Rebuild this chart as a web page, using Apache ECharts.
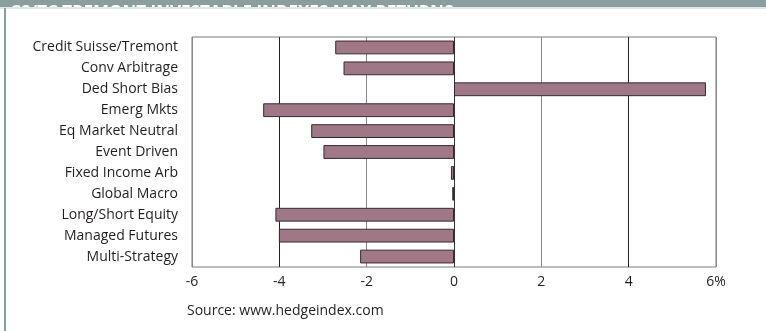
<!DOCTYPE html>
<html>
<head>
<meta charset="utf-8">
<script src="https://cdn.jsdelivr.net/npm/echarts@6/dist/echarts.min.js"></script>
<style>
  html, body { margin: 0; padding: 0; background: #fff; }
  #chart { width: 766px; height: 331px; }
</style>
</head>
<body>
<div id="chart"></div>
<script>
// May returns by strategy index, in %
const categories = [
    'Credit Suisse/Tremont', 'Conv Arbitrage', 'Ded Short Bias', 'Emerg Mkts',
    'Eq Market Neutral', 'Event Driven', 'Fixed Income Arb', 'Global Macro',
    'Long/Short Equity', 'Managed Futures', 'Multi-Strategy',
];
const returns = [-2.72, -2.53, 5.77, -4.37, -3.27, -2.99, -0.07, -0.04, -4.09, -4.01, -2.15];
const xTicks = [-6, -4, -2, 0, 2, 4, 6];
const titleText = 'CS/TC TREMONT INVESTABLE INDEXES MAY RETURNS';
const sourceText = 'Source: www.hedgeindex.com';

const FONT = '"Open Sans", "Noto Sans", sans-serif';

const chart = echarts.init(document.getElementById('chart'), null, { renderer: 'canvas' });

chart.setOption({
    animation: false,
    backgroundColor: '#fff',
    grid: {
        left: 192, right: 50, top: 37, bottom: 64,
        show: true, borderColor: '#7a7a7a', borderWidth: 1,
    },
    xAxis: {
        type: 'value',
        min: xTicks[0],
        max: xTicks[xTicks.length - 1],
        interval: 2,
        axisLine: { show: false },
        axisTick: { show: false },
        splitLine: {
            show: true,
            lineStyle: { color: ['#888', '#222', '#888', '#333', '#888', '#222', '#888'], width: 1 },
        },
        axisLabel: {
            color: '#231f20', fontFamily: FONT, fontSize: 14, margin: 8,
            formatter: (v) => (v === 6 ? '6%' : String(v)),
        },
    },
    yAxis: {
        type: 'category',
        data: categories,
        inverse: true,
        axisLine: { show: false },
        axisTick: { show: false },
        splitLine: { show: false },
        axisLabel: { color: '#231f20', fontFamily: FONT, fontSize: 14, margin: 14 },
    },
    series: [{
        type: 'bar',
        data: returns,
        barWidth: '66%',
        barMinHeight: 1,
        itemStyle: { color: '#a07787', borderColor: '#3a2a30', borderWidth: 1 },
    }],
    graphic: [
        { type: 'rect', left: 0, top: 0, shape: { width: 766, height: 7 }, style: { fill: '#8a9e9f' }, silent: true },
        {
            type: 'text', x: 10, y: 5,
            style: { text: titleText, fill: '#fff', font: 'bold 17px ' + FONT, verticalAlign: 'alphabetic' },
            silent: true,
        },
        { type: 'rect', left: 0, top: 7, shape: { width: 766, height: 2 }, style: { fill: '#dfe7e7' }, silent: true },
        { type: 'rect', left: 4, top: 8, shape: { width: 2, height: 323 }, style: { fill: '#8a9e9f' }, silent: true },
        {
            type: 'text', left: 187, top: 304,
            style: { text: sourceText, fill: '#231f20', font: '14px ' + FONT },
            silent: true,
        },
    ],
});
</script>
</body>
</html>
